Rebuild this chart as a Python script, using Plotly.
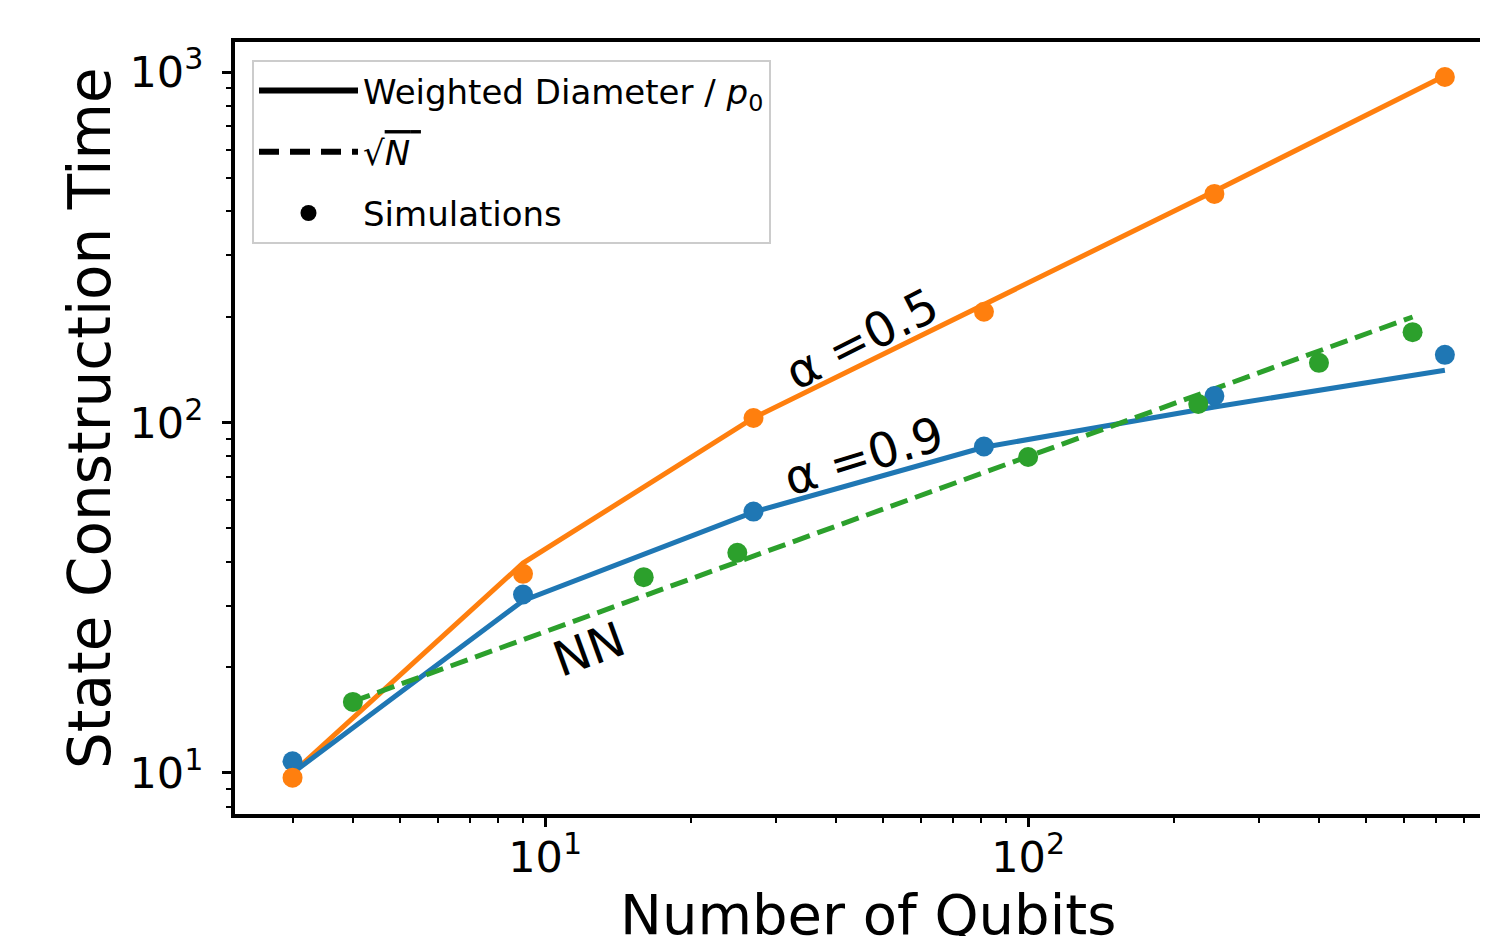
import plotly.graph_objects as go

# ---- data ----
x_alpha = [3, 9, 27, 81, 243, 729]
alpha05_sim = [9.7, 37.0, 103, 207, 449, 968]
alpha05_line = [10.0, 39.7, 103, 216, 457, 975]
alpha09_sim = [10.8, 32.3, 55.7, 85.4, 119, 156]
alpha09_line = [10.0, 31.0, 55.5, 85.0, 110.7, 141]

x_nn = [4, 16, 25, 100, 225, 400, 625]
nn_sim = [15.95, 36.2, 42.5, 79.7, 113, 148, 181]
nn_line = [16, 32, 40, 80, 120, 160, 200]

x_tickvals = [10, 100]
x_ticktext = ["10<sup>1</sup>", "10<sup>2</sup>"]
y_tickvals = [10, 100, 1000]
y_ticktext = ["10<sup>1</sup>", "10<sup>2</sup>", "10<sup>3</sup>"]

BLUE = "#1f77b4"
ORANGE = "#ff7f0e"
GREEN = "#2ca02c"
FONT = "DejaVu Sans"

# the page body has an 8px margin; compensate so the plot lands where the reference has it
OFF = 8
W, H = 1480, 928
ML, MR, MT, MB = 235 - OFF, 0, 42 - OFF, 122
PW, PH = W - ML - MR, H - MT - MB


def px_x(p):
    return (p - OFF - ML) / PW


def px_y(p):
    return 1 - (p - OFF - MT) / PH


fig = go.Figure()

for xs, ys, col in [(x_alpha, alpha05_line, ORANGE), (x_alpha, alpha09_line, BLUE)]:
    fig.add_trace(go.Scatter(x=xs, y=ys, mode="lines", line=dict(color=col, width=5),
                             showlegend=False, hoverinfo="skip"))
fig.add_trace(go.Scatter(x=x_nn, y=nn_line, mode="lines",
                         line=dict(color=GREEN, width=5, dash="18px,8px"),
                         showlegend=False, hoverinfo="skip"))
for xs, ys, col in [(x_alpha, alpha09_sim, BLUE), (x_alpha, alpha05_sim, ORANGE), (x_nn, nn_sim, GREEN)]:
    fig.add_trace(go.Scatter(x=xs, y=ys, mode="markers", marker=dict(color=col, size=20),
                             showlegend=False))

# legend entries
fig.add_trace(go.Scatter(x=[None], y=[None], mode="lines", line=dict(color="black", width=6),
                         name="Weighted Diameter / <i>p</i><sub>0</sub>", legendgroup="a"))
fig.add_trace(go.Scatter(x=[None], y=[None], mode="lines", line=dict(color="black", width=6, dash="20px,11px"),
                         name="√<span style='text-decoration:overline'><i>N</i> </span>", legendgroup="b"))
fig.add_trace(go.Scatter(x=[None], y=[None], mode="markers", marker=dict(color="black", size=20),
                         name="Simulations", legendgroup="c"))

minor_x = [m * 10 ** d for d in range(0, 3) for m in range(2, 10)]
minor_y = [m * 10 ** d for d in range(0, 4) for m in range(2, 10)]

fig.update_layout(
    width=W, height=H,
    margin=dict(l=ML, r=MR, t=MT, b=MB),
    paper_bgcolor="white", plot_bgcolor="white",
    font=dict(family=FONT, color="black", size=40),
    showlegend=True,
    legend=dict(x=px_x(252), y=px_y(60), xanchor="left", yanchor="top",
                bgcolor="rgba(255,255,255,0.8)", bordercolor="#cccccc", borderwidth=2,
                font=dict(size=34, family=FONT), tracegroupgap=14, itemwidth=99,
                traceorder="grouped"),
    xaxis=dict(type="log", range=[0.358, 2.952], showgrid=False, zeroline=False,
               showline=True, linewidth=4, linecolor="black", mirror=True,
               ticks="outside", ticklen=9, tickwidth=2.5, tickcolor="black",
               tickmode="array", tickvals=x_tickvals, ticktext=x_ticktext,
               tickfont=dict(size=43), ticklabelstandoff=-7,
               minor=dict(tickmode="array", tickvals=minor_x, ticks="outside", ticklen=5,
                          tickwidth=2, tickcolor="black")),
    yaxis=dict(type="log", range=[0.883, 3.0856], showgrid=False, zeroline=False,
               showline=True, linewidth=4, linecolor="black", mirror=False,
               ticks="outside", ticklen=9, tickwidth=2.5, tickcolor="black",
               tickmode="array", tickvals=y_tickvals, ticktext=y_ticktext,
               tickfont=dict(size=43), ticklabelstandoff=10,
               minor=dict(tickmode="array", tickvals=minor_y, ticks="outside", ticklen=5,
                          tickwidth=2, tickcolor="black")),
)

annos = [
    dict(text="State Construction Time", x=px_x(90), y=px_y(418), textangle=-90, size=58),
    dict(text="Number of Qubits", x=px_x(868), y=px_y(914), textangle=0, size=56),
    dict(text="α =0.5", x=px_x(861), y=px_y(339), textangle=-27, size=48),
    dict(text="α =0.9", x=px_x(863), y=px_y(456), textangle=-17, size=48),
    dict(text="NN", x=px_x(589), y=px_y(649), textangle=-20, size=48),
]
for a in annos:
    fig.add_annotation(text=a["text"], x=a["x"], y=a["y"], xref="paper", yref="paper",
                       xanchor="center", yanchor="middle", showarrow=False,
                       textangle=a["textangle"], font=dict(size=a["size"], family=FONT, color="black"))

fig.write_html("out.html")
